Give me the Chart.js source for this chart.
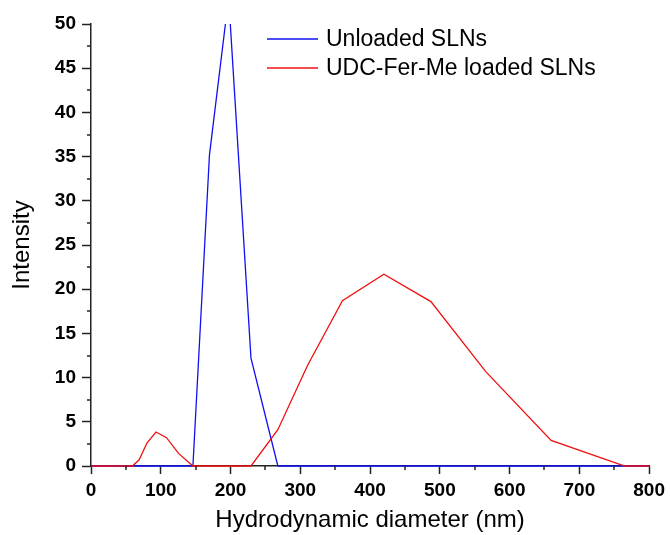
<!DOCTYPE html>
<html>
<head>
<meta charset="utf-8">
<script src="https://cdn.jsdelivr.net/npm/chart.js@4/dist/chart.umd.min.js"></script>
<style>
  html, body { margin: 0; padding: 0; background: #fff; }
  #wrap { width: 670px; height: 535px; }
</style>
</head>
<body>
<div id="wrap"><canvas id="chart" width="670" height="535"></canvas></div>
<script>
// size bins (nm) shared by both curves
const diameters = [0.4, 59.4, 69.0, 80.2, 93.1, 108.2, 125.8, 146.1, 169.8, 197.3, 229.3, 267.8, 310.5, 360.4, 419.8, 487.2, 565.5, 659.5, 765.0, 888.9];
const unloadedSLNs = [0, 0, 0, 0, 0, 0, 0, 0, 35.2, 53.0, 12.2, 0, 0, 0, 0, 0, 0, 0, 0, 0];
const loadedSLNs = [0, 0, 0.7, 2.6, 3.85, 3.2, 1.4, 0, 0, 0, 0, 4.1, 11.4, 18.7, 21.7, 18.6, 10.7, 2.9, 0, 0];
const seriesLabels = ['Unloaded SLNs', 'UDC-Fer-Me loaded SLNs'];
const seriesColors = ['#1010f0', '#f01010'];

const xTicks = { min: 0, max: 800, step: 100 };
const yTicks = { min: 0, max: 50, step: 5 };

const FONT = 'Arial, "Liberation Sans", sans-serif';
const AXIS = '#222';

function points(ys) {
  return diameters.map((d, i) => ({ x: d, y: ys[i] }));
}

// minor ticks halfway between the labelled ones, shorter than the major ticks
const minorTicks = {
  id: 'minorTicks',
  afterDraw(chart) {
    const { ctx, chartArea, scales } = chart;
    ctx.save();
    ctx.strokeStyle = AXIS;
    ctx.lineWidth = 1.5;
    ctx.beginPath();
    for (let v = xTicks.min + xTicks.step / 2; v < xTicks.max; v += xTicks.step) {
      const px = Math.round(scales.x.getPixelForValue(v));
      ctx.moveTo(px, chartArea.bottom);
      ctx.lineTo(px, chartArea.bottom + 4);
    }
    for (let v = yTicks.min + yTicks.step / 2; v < yTicks.max; v += yTicks.step) {
      const py = Math.round(scales.y.getPixelForValue(v));
      ctx.moveTo(chartArea.left, py);
      ctx.lineTo(chartArea.left - 4, py);
    }
    ctx.stroke();
    ctx.restore();
  },
};

// legend sits inside the plot, upper middle
const innerLegend = {
  id: 'innerLegend',
  afterDraw(chart) {
    const { ctx, chartArea } = chart;
    const x0 = chartArea.left + 176;
    const y0 = chartArea.top + 15;
    ctx.save();
    ctx.font = '23px ' + FONT;
    ctx.textBaseline = 'middle';
    seriesLabels.forEach((label, i) => {
      const y = y0 + i * 29;
      ctx.strokeStyle = seriesColors[i];
      ctx.lineWidth = 1.3;
      ctx.beginPath();
      ctx.moveTo(x0, y);
      ctx.lineTo(x0 + 51, y);
      ctx.stroke();
      ctx.fillStyle = '#000';
      ctx.fillText(label, x0 + 59, y + 1);
    });
    ctx.restore();
  },
};

// lines lying on the zero baseline should stay visible over the axis
const lineClip = { left: 0, top: 0, right: 0, bottom: 2 };

new Chart(document.getElementById('chart'), {
  type: 'line',
  data: {
    datasets: [
      {
        label: seriesLabels[0],
        data: points(unloadedSLNs),
        borderColor: seriesColors[0],
        borderWidth: 1.3,
        pointRadius: 0,
        tension: 0,
        clip: lineClip,
        order: 1,
      },
      {
        label: seriesLabels[1],
        data: points(loadedSLNs),
        borderColor: seriesColors[1],
        borderWidth: 1.3,
        pointRadius: 0,
        tension: 0,
        clip: lineClip,
        order: 0,
      },
    ],
  },
  options: {
    responsive: false,
    devicePixelRatio: 1,
    animation: false,
    layout: { padding: { top: 24, right: 17, left: 0, bottom: 0 } },
    plugins: {
      legend: { display: false },
      tooltip: { enabled: false },
    },
    scales: {
      x: {
        type: 'linear',
        min: xTicks.min,
        max: xTicks.max,
        afterFit(s) { s.height = 69; },
        ticks: {
          stepSize: xTicks.step,
          color: '#000',
          padding: 5,
          maxRotation: 0,
          font: { family: FONT, size: 19, weight: 'bold' },
        },
        grid: { drawOnChartArea: false, tickLength: 8, tickColor: AXIS, tickWidth: 1.5 },
        border: { color: AXIS, width: 1.5 },
        title: {
          display: true,
          text: 'Hydrodynamic diameter (nm)',
          color: '#000',
          font: { family: FONT, size: 24 },
          padding: { top: 0, bottom: 0 },
        },
      },
      y: {
        type: 'linear',
        min: yTicks.min,
        max: yTicks.max,
        afterFit(s) { s.width = 91; },
        ticks: {
          stepSize: yTicks.step,
          color: '#000',
          padding: 6,
          font: { family: FONT, size: 19, weight: 'bold' },
        },
        grid: { drawOnChartArea: false, tickLength: 9, tickColor: AXIS, tickWidth: 1.5 },
        border: { color: AXIS, width: 1.5 },
        title: {
          display: true,
          text: 'Intensity',
          color: '#000',
          font: { family: FONT, size: 24 },
          padding: { top: 8, bottom: 0 },
        },
      },
    },
  },
  plugins: [minorTicks, innerLegend],
});
</script>
</body>
</html>
